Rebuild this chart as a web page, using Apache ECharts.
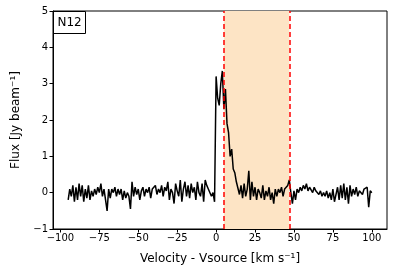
<!DOCTYPE html>
<html><head><meta charset="utf-8">
<script src="https://cdn.jsdelivr.net/npm/echarts@6/dist/echarts.min.js"></script>
<style>html,body{margin:0;padding:0;background:#fff}#c{width:394px;height:276px}</style>
</head><body><div id="c"></div>
<script>
const velocity = [-95,-94,-93,-92,-91,-90,-89,-88,-87,-86,-85,-84,-83,-82,-81,-80,-79,-78,-77,-76,-75,-74,-73,-72,-71,-70,-69,-68,-67,-66,-65,-64,-63,-62,-61,-60,-59,-58,-57,-56,-55,-54,-53,-52,-51,-50,-49,-48,-47,-46,-45,-44,-43,-42,-41,-40,-39,-38,-37,-36,-35,-34,-33,-32,-31,-30,-29,-28,-27,-26,-25,-24,-23,-22,-21,-20,-19,-18,-17,-16,-15,-14,-13,-12,-11,-10,-9,-8,-7,-6,-5,-4,-3,-2,-1,0,1,2,3,4,5,6,7,8,9,10,11,12,13,14,15,16,17,18,19,20,21,22,23,24,25,26,27,28,29,30,31,32,33,34,35,36,37,38,39,40,41,42,43,44,45,46,47,48,49,50,51,52,53,54,55,56,57,58,59,60,61,62,63,64,65,66,67,68,69,70,71,72,73,74,75,76,77,78,79,80,81,82,83,84,85,86,87,88,89,90,91,92,93,94,95,96,97,98,99,100];
const flux = [
 -0.2,0.1,-0.1,0.2,-0.25,0.15,-0.2,0.25,-0.1,0.2,
 -0.25,0.1,-0.15,0.2,-0.2,0.05,-0.1,0.1,-0.05,0.15,
 0.0,0.25,-0.1,0.1,-0.2,-0.5,0.1,-0.15,0.1,0.0,
 0.15,-0.1,0.1,-0.05,0.1,-0.2,0.05,-0.15,0.0,-0.1,
 -0.45,0.3,-0.1,0.15,-0.05,0.1,-0.2,0.05,0.15,-0.1,
 0.1,0.0,0.15,-0.15,0.1,0.05,0.2,-0.05,0.1,0.0,
 0.2,-0.1,0.15,0.05,0.3,-0.2,0.1,0.0,-0.3,0.25,
 0.05,-0.1,0.35,-0.25,0.1,0.3,-0.1,0.2,-0.15,0.25,
 0.0,0.15,-0.2,0.3,0.0,-0.1,0.25,-0.25,0.35,0.2,
 0.1,0.05,-0.1,0.0,-0.25,
 3.2,2.6,2.4,3.0,3.35,2.3,2.85,1.9,1.65,1.0,
 1.2,0.65,0.55,0.3,0.25,-0.05,0.2,-0.15,0.25,-0.1,
 0.1,0.6,-0.2,0.3,-0.1,0.15,-0.2,0.1,0.0,-0.15,
 0.2,-0.2,0.05,-0.1,0.15,-0.2,0.0,-0.3,0.1,-0.1,
 0.1,0.0,0.15,-0.1,0.1,0.05,0.2,0.35,0.0,-0.3,
 0.05,-0.2,0.1,0.0,0.15,0.05,0.2,0.1,0.25,0.05,
 0.15,0.1,0.0,0.15,0.05,0.1,-0.05,0.05,-0.1,0.0,
 -0.1,0.05,-0.15,0.0,-0.2,0.1,-0.25,-0.3,0.15,-0.2,
 0.2,-0.15,0.25,-0.2,0.15,-0.3,0.2,-0.1,0.1,-0.05,
 0.15,-0.1,0.05,0.1,-0.05,0.1,0.05,0.15,-0.4,0.05,0.0
];
const xTicks = [-100,-75,-50,-25,0,25,50,75,100];
const yTicks = [-1,0,1,2,3,4,5];
const windowLimits = [5, 47];
const label = "N12";

const font = "DejaVu Sans";
const fmt = v => String(v).replace('-', '\u2212');
const chart = echarts.init(document.getElementById('c'), null, {renderer:'canvas'});
chart.setOption({
  animation:false,
  grid:{left:53, right:7, top:11, bottom:47, show:true, borderColor:'#000', borderWidth:1, backgroundColor:'transparent'},
  xAxis:{type:'value', min:-104.75, max:109.75,
    name:'Velocity - Vsource [km s\u207B\u00B9]', nameLocation:'middle', nameGap:24,
    nameTextStyle:{fontFamily:font, fontSize:12, color:'#000'},
    axisLine:{show:true, onZero:false, lineStyle:{color:'#000'}},
    axisTick:{show:true, customValues:xTicks, length:3.5, lineStyle:{color:'#000'}},
    axisLabel:{customValues:xTicks, formatter:fmt, fontFamily:font, fontSize:10, color:'#000', margin:4},
    splitLine:{show:false}},
  yAxis:{type:'value', min:-1, max:5, interval:1,
    name:'Flux [Jy beam\u207B\u00B9]', nameLocation:'middle', nameGap:30,
    nameTextStyle:{fontFamily:font, fontSize:12, color:'#000'},
    axisLine:{show:true, onZero:false, lineStyle:{color:'#000'}},
    axisTick:{show:true, length:3.5, lineStyle:{color:'#000'}},
    axisLabel:{formatter:fmt, fontFamily:font, fontSize:10, color:'#000', margin:5},
    splitLine:{show:false}},
  graphic:[{type:'group', left:53, top:11, children:[
    {type:'rect', shape:{x:0,y:0,width:32,height:22}, style:{fill:'#fff', stroke:'#000', lineWidth:1}},
    {type:'text', x:4, y:5, style:{text:label, font:'12px DejaVu Sans', fill:'#000'}}
  ], z:100}],
  series:[
    {type:'line', data:[], z:1,
     markArea:{silent:true, itemStyle:{color:'#fde4c5'}, data:[[{xAxis:windowLimits[0]},{xAxis:windowLimits[1]}]]}},
    {type:'line', data:velocity.map((v,i)=>[v,flux[i]]), showSymbol:false, symbol:'none', z:3,
     lineStyle:{color:'#000', width:1.5}},
    {type:'line', data:[], z:5,
     markLine:{silent:true, symbol:'none', label:{show:false},
       lineStyle:{color:'#ff0000', type:[5,3], width:1.5},
       data:windowLimits.map(v=>({xAxis:v}))}}
  ]
});
</script></body></html>
